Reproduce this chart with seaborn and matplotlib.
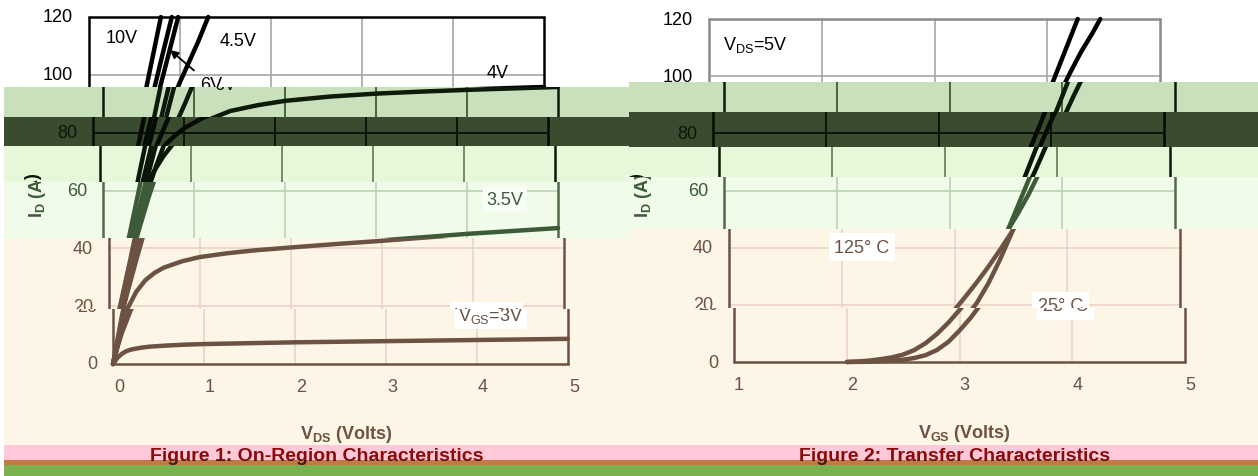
import numpy as np
import pandas as pd
import matplotlib.pyplot as plt
import matplotlib.transforms as mtrans
from matplotlib.patches import Rectangle
from matplotlib.text import Annotation
import seaborn as sns

sns.set_theme(style="white")
plt.rcParams['font.family'] = ['Liberation Sans', 'DejaVu Sans']
plt.rcParams['mathtext.fontset'] = 'custom'
plt.rcParams['mathtext.rm'] = 'Liberation Sans'
plt.rcParams['mathtext.bf'] = 'Liberation Sans:bold'
plt.rcParams['mathtext.it'] = 'Liberation Sans:italic'

# === DATA: Figure 1, I_D vs V_DS for each V_GS ===
vgs_labels = ['10V', '8V', '6V', '4.5V', '4V', '3.5V', '3V']
vds_10v = [0, 0.2, 0.4, 0.6, 0.79]
id_10v = [0, 31, 61, 91, 120]
vds_8v = [0, 0.2, 0.4, 0.6, 0.8, 0.91]
id_8v = [0, 27, 54, 80, 106, 120]
vds_6v = [0, 0.2, 0.4, 0.6, 0.8, 0.98]
id_6v = [0, 25, 50, 74, 98, 120]
vds_45v = [0, 0.1, 0.2, 0.3, 0.4, 0.5, 0.6, 0.7, 0.8, 0.9, 1.0, 1.1, 1.2, 1.31]
id_45v = [0, 12.5, 24.5, 36, 47, 57.5, 67, 75.5, 83, 90, 97.5, 104.5, 111.5, 120]
vds_4v = [0, 0.1, 0.2, 0.3, 0.4, 0.5, 0.6, 0.7, 0.8, 0.9, 1.0, 1.2, 1.4, 1.7,
          2.0, 2.5, 3.0, 3.5, 4.0, 4.5, 5.0]
id_4v = [0, 17, 31, 43, 53, 61, 67, 72, 76, 79, 81.5, 85, 87.5, 89.5,
         91, 92.5, 93.5, 94.2, 94.8, 95.3, 95.8]
vds_35v = [0, 0.05, 0.1, 0.2, 0.3, 0.4, 0.5, 0.6, 0.8, 1.0, 1.3, 1.6, 2.0,
           2.5, 3.0, 3.5, 4.0, 4.5, 5.0]
id_35v = [0, 6, 11, 19, 25, 29, 31.5, 33.3, 35.5, 37, 38.3, 39.3, 40.3,
          41.5, 42.6, 43.8, 45, 46, 47]
vds_3v = [0, 0.05, 0.1, 0.15, 0.2, 0.3, 0.4, 0.6, 0.8, 1.0, 1.5, 2.0, 3.0, 4.0, 5.0]
id_3v = [0, 2.2, 3.6, 4.5, 5.0, 5.6, 6.0, 6.4, 6.7, 6.9, 7.2, 7.5, 7.9, 8.3, 8.7]

# === DATA: Figure 2, I_D vs V_GS at V_DS=5V ===
temp_labels = ['125C', '25C']
vgs_125c = [2.0, 2.1, 2.2, 2.3, 2.4, 2.5, 2.6, 2.7, 2.8, 2.9, 3.0, 3.1, 3.2, 3.3,
            3.4, 3.5, 3.6, 3.7, 3.8, 3.9, 4.0, 4.1, 4.2, 4.3, 4.4, 4.47]
id_125c = [0, 0.2, 0.5, 1.0, 1.6, 2.6, 4.2, 6.6, 9.8, 13.7, 18.2, 23, 28, 33.3,
           39, 45, 51.5, 58.5, 66.5, 75.5, 84.5, 93, 101, 108.5, 115, 120]
vgs_25c = [2.0, 2.2, 2.4, 2.5, 2.6, 2.7, 2.8, 2.9, 3.0, 3.1, 3.2, 3.3, 3.4,
           3.5, 3.6, 3.7, 3.8, 3.9, 4.0, 4.1, 4.2, 4.27]
id_25c = [0, 0.1, 0.4, 0.8, 1.4, 2.4, 4.2, 7.0, 11.0, 15.5, 20.8, 27.5, 35.5,
          44.5, 54, 63.5, 73.5, 83, 93, 103, 113, 120]

on_x = [vds_10v, vds_8v, vds_6v, vds_45v, vds_4v, vds_35v, vds_3v]
on_y = [id_10v, id_8v, id_6v, id_45v, id_4v, id_35v, id_3v]
df_on = pd.DataFrame({
    'vds': np.concatenate(on_x),
    'id': np.concatenate(on_y),
    'vgs': np.repeat(vgs_labels, [len(x) for x in on_x]),
})
df_tr = pd.DataFrame({
    'vgs': np.concatenate([vgs_125c, vgs_25c]),
    'id': np.concatenate([id_125c, id_25c]),
    'temp': np.repeat(temp_labels, [len(vgs_125c), len(vgs_25c)]),
})

y_ticks = [0, 20, 40, 60, 80, 100, 120]
x_ticks_on = [0, 1, 2, 3, 4, 5]
x_ticks_tr = [1, 2, 3, 4, 5]

# === LOOK: colour bands of the picture ===
W, H = 1258, 477
STY = {
    'white': dict(bg='#ffffff', curve='#000000', grid='#a6a6a6', frame='#000000', text='#000000', box='#ffffff'),
    'lgreen': dict(bg='#c8e0bb', curve='#0c1a09', grid='#34502c', frame='#0c1a09', text='#0c1a09', box='#c8e0bb'),
    'dgreen': dict(bg='#3a4c30', curve='#050a04', grid='#050a04', frame='#050a04', text='#0d160a', box='#3a4c30'),
    'pale': dict(bg='#e6f8d9', curve='#0a1608', grid='#5d7a53', frame='#0a1608', text='#0a1608', box='#e6f8d9'),
    'paler': dict(bg='#f0fbe9', curve='#3e5b39', grid='#bcd3b4', frame='#4f6c48', text='#3e5b39', box='#f8fdf5'),
    'cream': dict(bg='#fdf6e7', curve='#6b5243', grid='#ecd3c7', frame='#6b5243', text='#6b5243', box='#ffffff'),
}
# (top px, bottom px, horizontal shift px, style)
left_bands = [(0, 88, 0, 'white'), (88, 118, 14, 'lgreen'), (118, 147, 4, 'dgreen'),
              (147, 183, 11, 'pale'), (183, 239, 14, 'paler'), (239, 310, 20, 'cream'),
              (310, 372, 24, 'cream'), (372, 446, 30, 'cream')]
right_bands = [(0, 83, 0, 'white'), (83, 113, 15, 'lgreen'), (113, 148, 4, 'dgreen'),
               (148, 178, 10, 'pale'), (178, 230, 15, 'paler'), (230, 309, 20, 'cream'),
               (309, 372, 25, 'cream'), (372, 446, 30, 'cream')]

fig = plt.figure(figsize=(W / 100, H / 100), dpi=100)


def fig_rect(x0, y0, x1, y1):
    return Rectangle((x0 / W, 1 - y1 / H), (x1 - x0) / W, (y1 - y0) / H,
                     transform=fig.transFigure)


def clip_all(ax, rect):
    for art in ax.get_children():
        if art is ax.patch:
            continue
        art.set_clip_on(True)
        art.set_clip_path(rect)
        if isinstance(art, Annotation) and art.arrow_patch is not None:
            art.arrow_patch.set_clip_on(True)
            art.arrow_patch.set_clip_path(rect)


class Band:
    """Which part of a panel one colour band shows."""
    def __init__(self, y0, y1, yt, yb):
        self.y0, self.y1, self.yt, self.yb = y0, y1, yt, yb

    def pix(self, v):
        return self.yt + (120 - v) / 120 * (self.yb - self.yt)

    def shows(self, ypix, half=12):
        return ypix + half > self.y0 and ypix - half < self.y1

    def shows_val(self, v, half=12):
        return self.shows(self.pix(v), half)


def draw_frame(ax, s, frame, xt):
    for v in xt[1:-1]:
        ax.axvline(v, color=s['grid'], lw=1.2, zorder=1)
    for v in y_ticks[1:-1]:
        ax.axhline(v, color=s['grid'], lw=1.2, zorder=1)
    for v in (xt[0], xt[-1]):
        ax.axvline(v, color=frame, lw=1.8, zorder=1.5)
    for v in (0, 120):
        ax.axhline(v, color=frame, lw=1.8, zorder=1.5)


def draw_on_region(ax, s, frame, b):
    draw_frame(ax, s, frame, x_ticks_on)
    sns.lineplot(data=df_on, x='vds', y='id', units='vgs', estimator=None, sort=False,
                 color=s['curve'], lw=3.2, legend=False, ax=ax, zorder=2)
    ax.set_xlim(0, 5)
    ax.set_ylim(0, 120)
    fs = 13
    box = dict(boxstyle='square,pad=0.2', fc=s['box'], ec='none')
    if b.shows_val(113):
        ax.text(0.36, 113, '10V', fontsize=fs, color=s['text'], ha='center', va='center')
    if b.shows_val(112):
        ax.text(1.64, 112, '4.5V', fontsize=fs, color=s['text'], ha='center', va='center')
    if b.shows_val(96.5) or b.shows_val(108.6):
        ax.annotate('6V', xy=(0.89, 108.6), xytext=(1.34, 96.5), fontsize=fs, color=s['text'],
                    ha='center', va='center', annotation_clip=False,
                    arrowprops=dict(arrowstyle='-|>', color=s['text'], lw=1.3,
                                    mutation_scale=12, shrinkA=3, shrinkB=0))
    if b.shows_val(100.7):
        ax.text(4.49, 100.7, '4V', fontsize=fs, color=s['text'], ha='center', va='center')
    if b.shows_val(56.9):
        ax.text(4.42, 56.9, '3.5V', fontsize=fs, color=s['text'], ha='center', va='center', bbox=box)
    if b.shows_val(16.9):
        ax.text(4.15, 16.9, r'V$_{\mathregular{GS}}$=3V', fontsize=fs, color=s['text'],
                ha='center', va='center', bbox=box)


def draw_transfer(ax, s, frame, b):
    draw_frame(ax, s, frame, x_ticks_tr)
    sns.lineplot(data=df_tr, x='vgs', y='id', units='temp', estimator=None, sort=False,
                 color=s['curve'], lw=3.2, legend=False, ax=ax, zorder=2)
    ax.set_xlim(1, 5)
    ax.set_ylim(0, 120)
    fs = 13
    box = dict(boxstyle='square,pad=0.3', fc=s['box'], ec='none')
    if b.shows_val(111.2):
        ax.text(1.12, 111.2, r'V$_{\mathregular{DS}}$=5V', fontsize=fs, color=s['text'],
                ha='left', va='center')
    if b.shows_val(40.2):
        ax.text(2.18, 40.2, '125° C', fontsize=fs, color=s['text'], ha='center', va='center', bbox=box)
    if b.shows_val(19.6):
        ax.text(3.94, 19.6, '25° C', fontsize=fs, color=s['text'], ha='center', va='center', bbox=box)


def draw_labels(ax, s, xt, xlab, ylab_off, b):
    ytr = mtrans.offset_copy(ax.get_yaxis_transform(), fig=fig, x=-16, y=0, units='dots')
    for v in y_ticks:
        if b.shows_val(v, 10):
            ax.text(0, v, str(v), transform=ytr, ha='right', va='center', fontsize=13, color=s['text'])
    xtr = mtrans.offset_copy(ax.get_xaxis_transform(), fig=fig, x=0, y=-23, units='dots')
    if b.shows(b.yb + 23, 10):
        for v in xt:
            ax.text(v, 0, str(v), transform=xtr, ha='center', va='center', fontsize=13, color=s['text'])
    ymid = b.yt + 0.51 * (b.yb - b.yt)
    if b.shows(ymid, 34):
        ltr = mtrans.offset_copy(ax.transAxes, fig=fig, x=ylab_off, y=0, units='dots')
        ax.text(0, 0.49, r'$\mathbf{I_D}$ (A)', transform=ltr, rotation=90, ha='center', va='center',
                fontsize=13, fontweight='bold', color=s['text'])
    if b.shows(b.yb + 70, 12):
        btr = mtrans.offset_copy(ax.transAxes, fig=fig, x=0, y=-70, units='dots')
        ax.text(0.5, 0, xlab, transform=btr, ha='center', va='center',
                fontsize=13, fontweight='bold', color=s['text'])


panels = [
    # x0, x1, y_top, y_bottom, bands, half range, drawer, x ticks, x label, ylabel offset, white frame
    (89, 544, 18, 365, left_bands, (4, 629), draw_on_region, x_ticks_on,
     r'$\mathbf{V_{DS}}$ (Volts)', -66, '#000000'),
    (709, 1160, 20, 363, right_bands, (629, W), draw_transfer, x_ticks_tr,
     r'$\mathbf{V_{GS}}$ (Volts)', -81, '#8a8a8a'),
]

for x0, x1, yt, yb, bands, (hx0, hx1), drawer, xt, xlab, yoff, wframe in panels:
    for by0, by1, dx, key in bands:
        s = STY[key]
        b = Band(by0, by1, yt, yb)
        if key != 'white':
            bg = fig_rect(hx0, by0, hx1, by1)
            bg.set_facecolor(s['bg'])
            bg.set_edgecolor('none')
            bg.set_zorder(-10)
            fig.add_artist(bg)
        ax = fig.add_axes([(x0 + dx) / W, 1 - yb / H, (x1 - x0) / W, (yb - yt) / H])
        ax.patch.set_visible(False)
        ax.axis('off')
        frame = wframe if key == 'white' else s['frame']
        drawer(ax, s, frame, b)
        draw_labels(ax, s, xt, xlab, yoff, b)
        clip_all(ax, fig_rect(hx0, by0, hx1, by1))

# bottom strips
for by0, by1, col in [(446, 461, '#ffc9da'), (461, 466, '#c27a44'), (466, H, '#7ab14e')]:
    r = fig_rect(4, by0, W, by1)
    r.set_facecolor(col)
    r.set_edgecolor('none')
    r.set_zorder(-10)
    fig.add_artist(r)

captions = [('Figure 1: On-Region Characteristics', 317),
            ('Figure 2: Transfer Characteristics', 955)]
for txt, cx in captions:
    for c0, c1, col in [(446, 461, '#8b0a0a'), (461, 468, '#3a1c10')]:
        t = fig.text(cx / W, 1 - 461 / H, txt, ha='center', va='baseline', fontsize=14,
                     fontweight='bold', color=col)
        t.set_clip_on(True)
        t.set_clip_path(fig_rect(0, c0, W, c1))

fig.savefig('out.png', dpi=100)
